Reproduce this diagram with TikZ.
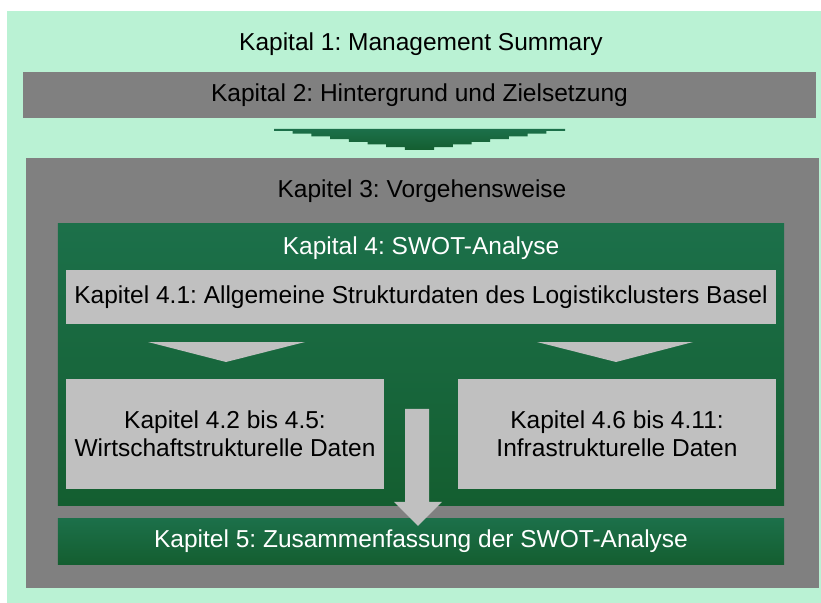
\documentclass[tikz,border=0pt]{standalone}
\usepackage{fontspec}
\setmainfont{Liberation Sans}
\usepackage{tikz}
\usetikzlibrary{calc}
\definecolor{mintback}{RGB}{186,242,212}
\definecolor{chaptergray}{RGB}{128,128,128}
\definecolor{lightbox}{RGB}{192,192,192}
\definecolor{swotgreen}{RGB}{28,112,74}
\definecolor{swotdark}{RGB}{20,94,48}
\frenchspacing

\begin{document}
\begin{tikzpicture}[x=1bp,y=-1bp,
    every node/.style={font=\fontsize{24.5bp}{28bp}\selectfont,inner sep=0pt},
    graybar/.style={fill=chaptergray},
    greenbox/.style={top color=swotgreen,bottom color=swotdark,text=white},
    databox/.style={fill=lightbox,align=center}]
    % Background
    \useasboundingbox (0,0) rectangle (821,603);
    \fill[mintback] (7,11) rectangle (821,603);

    % Chapters 1 and 2
    \node (kap1) at (421,44) {Kapital 1: Management Summary};
    \node[graybar,minimum width=793bp,minimum height=46bp] (kap2) at (419.5,95) {Kapital 2: Hintergrund und Zielsetzung};

    % Stepped arrow
    \shade[top color=swotgreen,bottom color=swotdark]
      \foreach \k in {0,...,7} {(274+18.7*\k,129) rectangle (565-18.7*\k,131+2.7*\k)};

    % Chapter 3 frame
    \node[graybar,minimum width=793bp,minimum height=430bp] (kap3) at (422.5,373) {};
    \node (kap3title) at (422,191) {Kapitel 3: Vorgehensweise};

    % Chapter 4 frame
    \node[greenbox,minimum width=726bp,minimum height=281bp] (kap4) at (421,364.5) {};
    \node[text=white] (kap4title) at (421,248) {Kapital 4: SWOT-Analyse};
    \node[databox,minimum width=710bp,minimum height=54bp] (kap41) at (421,297) {Kapitel 4.1: Allgemeine Strukturdaten des Logistikclusters Basel};

    % Triangles
    \fill[lightbox] (148,342) -- (305,342) -- (226,362) -- cycle;
    \fill[lightbox] (537,342) -- (693,342) -- (616,362) -- cycle;

    % Data boxes
    \node[databox,minimum width=318bp,minimum height=110bp] (kap42) at (225,434) {Kapitel 4.2 bis 4.5:\\Wirtschaftstrukturelle Daten};
    \node[databox,minimum width=318bp,minimum height=110bp] (kap46) at (617,434) {Kapitel 4.6 bis 4.11:\\Infrastrukturelle Daten};

    % Chapter 5
    \node[greenbox,minimum width=726bp,minimum height=46bp] (kap5) at (421,541) {Kapitel 5: Zusammenfassung der SWOT-Analyse};

    % Arrow into chapter 5
    \coordinate (tip) at ($(kap5.north)+(-3,8)$);
    \fill[lightbox] ($(tip)+(-13,-117)$) -- ($(tip)+(11,-117)$) -- ($(tip)+(11,-24)$) -- ($(tip)+(24,-24)$)
      -- (tip) -- ($(tip)+(-24,-24)$) -- ($(tip)+(-13,-24)$) -- cycle;
\end{tikzpicture}
\end{document}
